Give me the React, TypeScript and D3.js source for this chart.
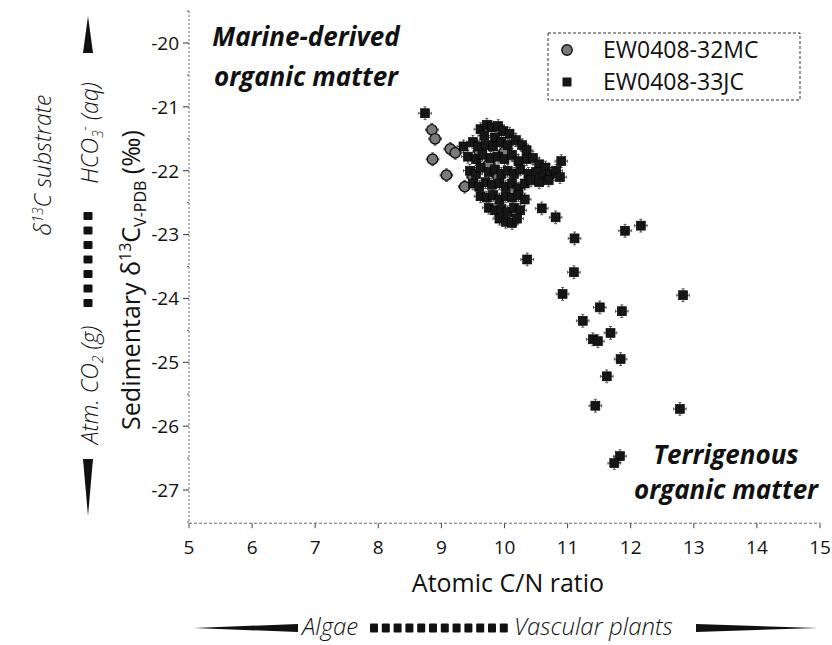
import React from "react";
import * as d3 from "d3";

// Axis ticks
const xTicks = [5, 6, 7, 8, 9, 10, 11, 12, 13, 14, 15];
const yTicks = [-20, -21, -22, -23, -24, -25, -26, -27];
const yMinorTicks = [-19.5, -20.5, -21.5, -22.5, -23.5, -24.5, -25.5, -26.5, -27.5];

// Series names
const seriesNames = ["EW0408-32MC", "EW0408-33JC"];

// Analytical uncertainty (C/N, per mil)
const cnErr = 0.1;
const d13Err = 0.1;

// EW0408-32MC: [C/N, δ13C]
const mc32: [number, number][] = [
  [8.85, -21.36], [8.9, -21.5], [8.86, -21.82], [9.14, -21.66], [9.08, -22.07],
  [9.37, -22.25], [9.22, -21.72], [9.5, -22.1], [9.6, -21.7], [9.75, -21.9],
  [9.9, -22.1], [10.0, -21.7],
];

// EW0408-33JC: [C/N, δ13C]
const jc33: [number, number][] = [
  [8.74, -21.1],
  // main cluster
  [9.62, -21.35], [9.72, -21.28], [9.8, -21.32], [9.9, -21.3], [9.98, -21.38], [10.08, -21.42],
  [9.68, -21.45], [9.85, -21.48],
  [9.5, -21.55], [9.58, -21.62], [9.7, -21.6], [9.82, -21.62], [9.95, -21.55], [10.05, -21.6],
  [10.18, -21.52], [10.28, -21.6], [10.35, -21.68], [9.35, -21.62],
  [9.42, -21.78], [9.55, -21.82], [9.65, -21.75], [9.78, -21.8], [9.9, -21.78], [10.0, -21.82],
  [10.12, -21.75], [10.22, -21.85], [10.35, -21.82], [10.45, -21.8], [10.55, -21.9], [10.65, -21.95],
  [9.45, -22.0], [9.55, -22.05], [9.62, -21.95], [9.75, -22.02], [9.85, -21.98], [9.95, -22.05],
  [10.05, -22.0], [10.15, -22.05], [10.25, -21.98], [10.38, -22.05], [10.5, -22.02], [10.6, -22.1],
  [10.72, -22.05], [10.82, -22.0], [10.9, -21.85], [10.88, -22.1],
  [9.5, -22.2], [9.6, -22.25], [9.7, -22.18], [9.8, -22.22], [9.92, -22.2], [10.02, -22.25],
  [10.12, -22.2], [10.22, -22.28], [10.32, -22.2], [10.42, -22.15], [10.55, -22.18], [10.7, -22.15],
  [9.62, -22.4], [9.72, -22.42], [9.82, -22.38], [9.92, -22.45], [10.02, -22.4], [10.12, -22.42],
  [10.22, -22.38], [10.32, -22.45],
  [9.75, -22.58], [9.85, -22.62], [9.95, -22.6], [10.05, -22.65], [10.15, -22.58], [10.25, -22.62],
  [9.92, -22.75], [10.02, -22.8], [10.12, -22.82], [10.2, -22.75],
  // scattered samples
  [10.59, -22.59], [10.81, -22.73], [11.11, -23.06], [11.91, -22.94], [12.16, -22.86],
  [10.36, -23.39], [11.1, -23.59], [10.92, -23.93], [12.83, -23.95], [11.51, -24.14],
  [11.86, -24.2], [11.24, -24.35], [11.4, -24.64], [11.48, -24.67], [11.68, -24.54],
  [11.84, -24.95], [11.62, -25.22], [11.44, -25.68], [12.78, -25.73], [11.83, -26.47],
  [11.74, -26.58],
];

const W = 832;
const H = 645;
const FONT = "'Open Sans', Lato, 'DejaVu Sans', sans-serif";

const x = d3.scaleLinear().domain([5, 15]).range([189, 820]);
const y = d3.scaleLinear().domain([-20, -27]).range([43, 490]);
const axisX0 = x(5);
const axisY0 = y(-27.52);
const axisYTop = y(-19.5);

const SQ = 9;
const R = 5.2;

function ErrorBars({ data }: { data: [number, number][] }) {
  return (
    <g stroke="#333" strokeWidth={0.8}>
      {data.map(([cn, d], i) => {
        const cx = x(cn);
        const cy = y(d);
        const x0 = x(cn - cnErr);
        const x1 = x(cn + cnErr);
        const y0 = y(d + d13Err);
        const y1 = y(d - d13Err);
        return (
          <g key={i}>
            <line x1={x0} x2={x1} y1={cy} y2={cy} />
            <line x1={cx} x2={cx} y1={y0} y2={y1} />
            <line x1={x0} x2={x0} y1={cy - 1.5} y2={cy + 1.5} />
            <line x1={x1} x2={x1} y1={cy - 1.5} y2={cy + 1.5} />
            <line x1={cx - 1.5} x2={cx + 1.5} y1={y0} y2={y0} />
            <line x1={cx - 1.5} x2={cx + 1.5} y1={y1} y2={y1} />
          </g>
        );
      })}
    </g>
  );
}

export default function App() {
  const leftSquares = d3.range(7);
  const bottomSquares = d3.range(12);
  return (
    <svg
      width={W}
      height={H}
      viewBox={`0 0 ${W} ${H}`}
      style={{ position: "absolute", left: 0, top: 0, background: "#fff" }}
      fontFamily={FONT}
    >
      <rect width={W} height={H} fill="#fff" />

      {/* y axis */}
      <line x1={axisX0} x2={axisX0} y1={axisYTop} y2={axisY0} stroke="#666" strokeWidth={1} strokeDasharray="2,2" />
      {yTicks.map((t) => (
        <g key={t}>
          <line x1={axisX0 - 6} x2={axisX0} y1={y(t)} y2={y(t)} stroke="#333" strokeWidth={1} />
          <text x={axisX0 - 10} y={y(t)} dy="0.36em" textAnchor="end" fontSize={19} fill="#111">
            {String(t)}
          </text>
        </g>
      ))}
      {yMinorTicks.map((t) => (
        <line key={t} x1={axisX0 - 2} x2={axisX0} y1={y(t)} y2={y(t)} stroke="#555" strokeWidth={1} />
      ))}

      {/* x axis */}
      <line x1={axisX0} x2={x(15)} y1={axisY0} y2={axisY0} stroke="#666" strokeWidth={1} strokeDasharray="3,2" />
      {xTicks.map((t) => (
        <g key={t}>
          <line x1={x(t)} x2={x(t)} y1={axisY0} y2={axisY0 + 5} stroke="#444" strokeWidth={1} />
          <text x={x(t)} y={axisY0 + 31} textAnchor="middle" fontSize={19} fill="#111">
            {t}
          </text>
        </g>
      ))}
      <text x={508} y={592} textAnchor="middle" fontSize={25} fill="#111">
        Atomic C/N ratio
      </text>

      {/* Algae → vascular plants scale */}
      <g fill="#111">
        <polygon points={`194,628 298,624 298,632`} />
        <text x={302} y={635} fontSize={24} fontStyle="italic" fontWeight={300}>
          Algae
        </text>
        {bottomSquares.map((i) => (
          <rect key={i} x={370 + i * 11.8} y={623.5} width={8} height={9} rx={1} />
        ))}
        <text x={514} y={635} fontSize={24} fontStyle="italic" fontWeight={300}>
          Vascular plants
        </text>
        <polygon points={`696,624 696,632 818,628`} />
      </g>

      {/* y axis title */}
      <text transform="translate(140,280) rotate(-90)" textAnchor="middle" fontSize={25} fill="#111">
        Sedimentary δ
        <tspan dy={-9} fontSize={16}>13</tspan>
        <tspan dy={9}>C</tspan>
        <tspan dy={6} fontSize={16}>V-PDB</tspan>
        <tspan dy={-6}> (‰)</tspan>
      </text>

      {/* substrate scale */}
      <text transform="translate(51,165) rotate(-90)" textAnchor="middle" fontSize={23} fontStyle="italic" fontWeight={300} fill="#111">
        δ<tspan dy={-8} fontSize={14}>13</tspan>
        <tspan dy={8}>C substrate</tspan>
      </text>
      <g fill="#111">
        <polygon points={`88,16 83,53 93,53`} />
        <text transform="translate(98,133) rotate(-90)" textAnchor="middle" fontSize={23} fontStyle="italic" fontWeight={300}>
          HCO<tspan dy={5} fontSize={14}>3</tspan>
          <tspan dy={-13} fontSize={14}>-</tspan>
          <tspan dy={8}> (aq)</tspan>
        </text>
        {leftSquares.map((i) => (
          <rect key={i} x={83.5} y={212 + i * 14.5} width={9} height={8} rx={1} />
        ))}
        <text transform="translate(98,385) rotate(-90)" textAnchor="middle" fontSize={23} fontStyle="italic" fontWeight={300}>
          Atm. CO<tspan dy={5} fontSize={14}>2</tspan>
          <tspan dy={-5}> (g)</tspan>
        </text>
        <polygon points={`83,459 93,459 88,516`} />
      </g>

      {/* annotations */}
      <g fontSize={26} fontStyle="italic" fontWeight={700} fill="#111" textAnchor="middle">
        <text x={306} y={46}>Marine-derived</text>
        <text x={306} y={86}>organic matter</text>
        <text x={726} y={464}>Terrigenous</text>
        <text x={726} y={499}>organic matter</text>
      </g>

      {/* data */}
      <ErrorBars data={mc32} />
      <ErrorBars data={jc33} />
      <g>
        {mc32.map(([cn, d], i) => (
          <circle key={i} cx={x(cn)} cy={y(d)} r={R} fill="#7a7a7a" stroke="#111" strokeWidth={1.4} />
        ))}
      </g>
      <g>
        {jc33.map(([cn, d], i) => (
          <rect key={i} x={x(cn) - SQ / 2} y={y(d) - SQ / 2} width={SQ} height={SQ} fill="#161616" stroke="#000" strokeWidth={0.6} />
        ))}
      </g>

      {/* legend */}
      <g>
        <rect x={548} y={33} width={252} height={67} fill="#fff" stroke="#333" strokeWidth={1} strokeDasharray="3,2" />
        <circle cx={567} cy={50} r={R} fill="#7a7a7a" stroke="#111" strokeWidth={1.4} />
        <rect x={567 - SQ / 2} y={82 - SQ / 2} width={SQ} height={SQ} fill="#161616" />
        <text x={603} y={50} dy="0.36em" fontSize={23} fill="#111">{seriesNames[0]}</text>
        <text x={603} y={82} dy="0.36em" fontSize={23} fill="#111">{seriesNames[1]}</text>
      </g>
    </svg>
  );
}
